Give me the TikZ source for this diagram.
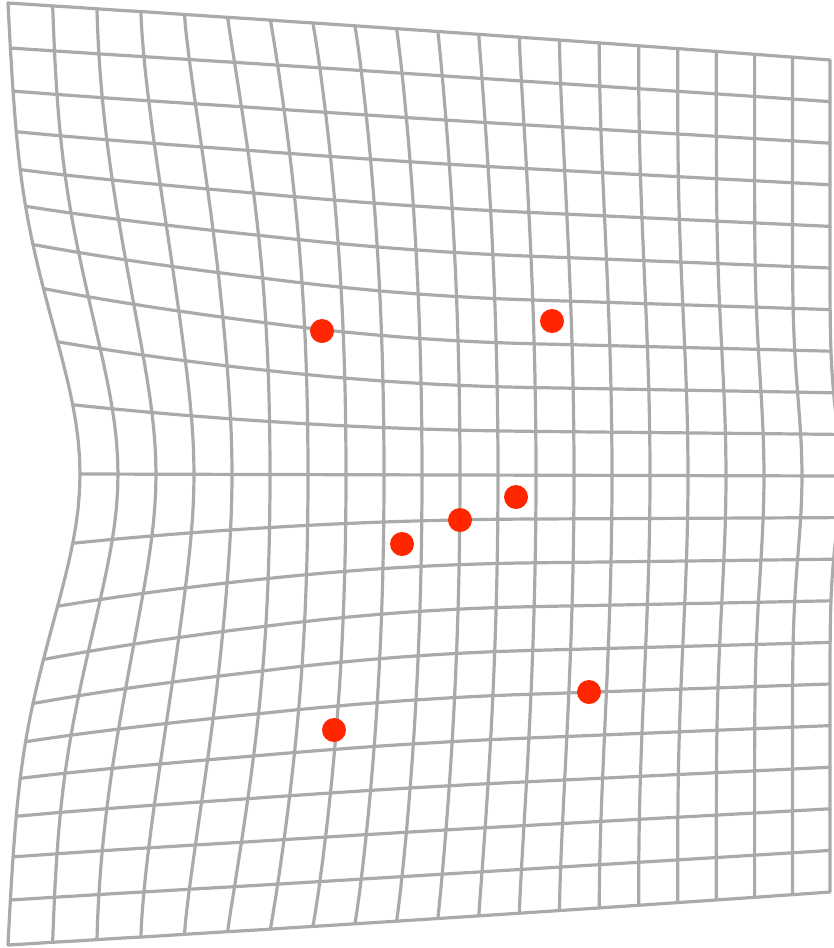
\documentclass[tikz,border=0pt]{standalone}
\usepackage{tikz}
\definecolor{meshgray}{HTML}{AAAAAA}
\definecolor{markred}{HTML}{FF2600}

\begin{document}
\begin{tikzpicture}[
        x=1pt, y=-1pt, % one unit per pixel, y downwards
        mesh/.style={draw=meshgray, line width=3.2pt, line join=round, line cap=round},
        landmark/.style={circle, fill=markred, minimum size=24pt, inner sep=0pt},
        declare function={
            xb(\pp)=8+822*(\pp+0.092*\pp*(1-\pp));
            xm(\pp)=80+760*\pp;
            gl(\qq)=1/(1+\qq*\qq/0.09)-0.0826*\qq*\qq;
            ex(\pp)=0.8+3.5*exp(-\pp/0.1)+24*exp(-(1-\pp)/0.1);
            gq(\pp,\qq)=exp(max(-20,ex(\pp)*ln(max(1-\qq*\qq,0.0001))));
            wl(\pp)=max(0,1-\pp/0.25);
            gp(\pp,\qq)=wl(\pp)*gl(\qq)+(1-wl(\pp))*gq(\pp,\qq);
            wx(\pp,\qq)=xb(\pp)+(xm(\pp)-xb(\pp))*gp(\pp,\qq);
            kb(\pp)=0.5*max(0,1-\pp/0.6)*max(0,1-\pp/0.6);
            fy(\pp,\qq)=(\qq+kb(\pp)*\qq*exp(-\qq*\qq/0.197))/(1+kb(\pp)*0.0063);
            wy(\pp,\qq)=474+2*\pp+(471-55*\pp)*fy(\pp,\qq);
        }
    ]
    \useasboundingbox (0,0) rectangle (833,948);

    % Warped rows
    \foreach \j in {0,...,20}
        \draw[mesh] plot[variable=\tc, domain=0:1, samples=41] ({wx(\tc,\j/10-1)},{wy(\tc,\j/10-1)});

    % Warped columns
    \foreach \i in {0,...,20}
        \draw[mesh] plot[variable=\sr, domain=-1:1, samples=81] ({wx(\i/20,\sr)},{wy(\i/20,\sr)});

    % Landmarks
    \node[landmark] (lm1) at (322,331) {};
    \node[landmark] (lm2) at (552,321) {};
    \node[landmark] (lm3) at (516,497) {};
    \node[landmark] (lm4) at (460,520) {};
    \node[landmark] (lm5) at (402,544) {};
    \node[landmark] (lm6) at (589,692) {};
    \node[landmark] (lm7) at (334,730) {};

\end{tikzpicture}
\end{document}
